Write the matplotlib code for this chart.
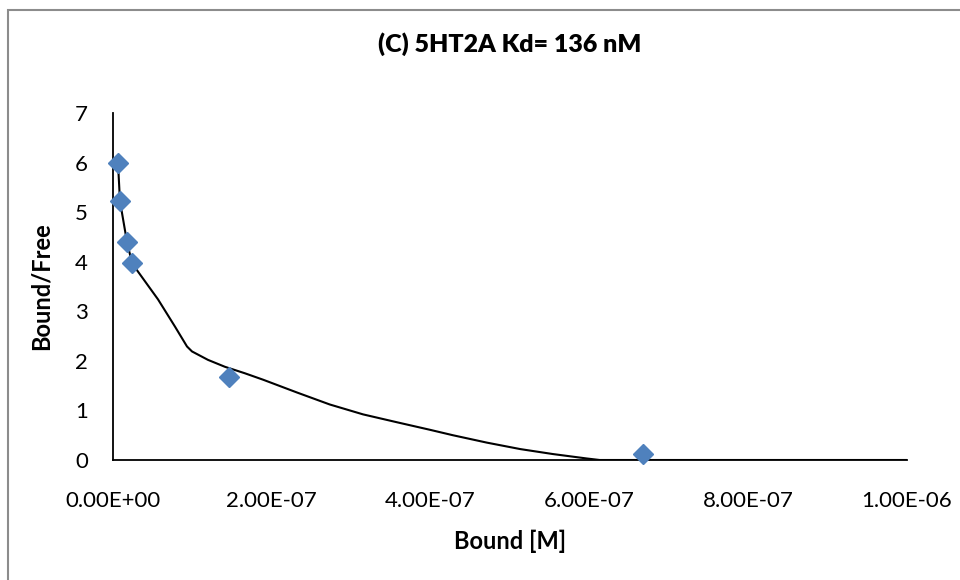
import matplotlib
matplotlib.use("Agg")
import matplotlib.pyplot as plt
from matplotlib.patches import Rectangle
from matplotlib.ticker import FuncFormatter

plt.rcParams['font.family'] = ['Lato', 'DejaVu Sans']

# measured points (Bound [M], Bound/Free)
bound = [6.3e-9, 8.8e-9, 1.76e-8, 2.4e-8, 1.46e-7, 6.67e-7]
bound_free = [5.99, 5.22, 4.40, 3.97, 1.67, 0.12]

# fitted curve
fit_x = [6.3e-9, 8.8e-9, 1.76e-8, 2.4e-8, 3.15e-8, 5.67e-8, 7.81e-8, 9.32e-8,
         9.95e-8, 1.196e-7, 1.41e-7, 1.66e-7, 1.89e-7, 2.32e-7, 2.73e-7,
         3.15e-7, 3.58e-7, 3.99e-7, 4.28e-7, 4.71e-7, 5.13e-7, 5.54e-7,
         5.97e-7, 6.13e-7, 1.0e-6]
fit_y = [5.99, 5.22, 4.40, 3.97, 3.80, 3.24, 2.69, 2.29,
         2.19, 2.02, 1.88, 1.75, 1.62, 1.36, 1.12,
         0.92, 0.76, 0.61, 0.50, 0.35, 0.22, 0.12,
         0.03, 0.0, 0.0]

fig = plt.figure(figsize=(9.6, 5.8), dpi=100)
fig.patches.append(Rectangle((8 / 960, -0.1), 1.2, (580 - 10) / 580 + 0.1,
                             transform=fig.transFigure, fill=False,
                             edgecolor='#8c8c8c', linewidth=1.5))

ax = fig.add_axes([113 / 960, 120 / 580, 794 / 960, 347 / 580])
ax.plot(fit_x, fit_y, color='black', linewidth=1.5, zorder=2)
ax.plot(bound, bound_free, linestyle='none', marker='D', markersize=10,
        color='#4f81bd', zorder=3, clip_on=False)

ax.set_xlim(0, 1e-6)
ax.set_ylim(0, 7)
ax.set_xticks([0, 2e-7, 4e-7, 6e-7, 8e-7, 1e-6])
ax.set_yticks(range(0, 8))
ax.xaxis.set_major_formatter(FuncFormatter(lambda v, p: '%.2E' % v))
ax.tick_params(length=0, labelsize=16, pad=22)
ax.tick_params(axis='y', pad=18)
for s in ['top', 'right']:
    ax.spines[s].set_visible(False)
for s in ['left', 'bottom']:
    ax.spines[s].set_linewidth(1.3)
    ax.spines[s].set_color('black')

ax.set_title('(C) 5HT2A Kd= 136 nM', fontsize=18, fontweight='heavy', pad=44)
ax.set_xlabel('Bound [M]', fontsize=17, fontweight='bold', labelpad=14)
ax.set_ylabel('Bound/Free', fontsize=17, fontweight='bold', labelpad=16)

fig.savefig('out.png', dpi=100)
